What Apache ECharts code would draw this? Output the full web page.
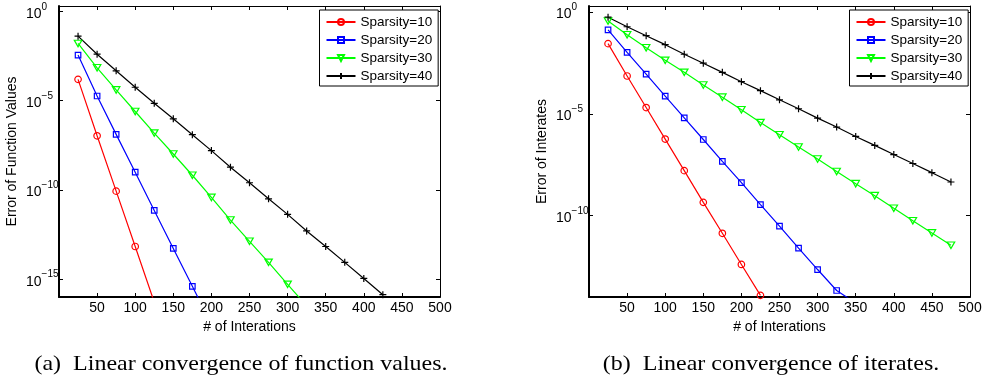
<!DOCTYPE html>
<html>
<head>
<meta charset="utf-8">
<script src="https://cdn.jsdelivr.net/npm/echarts@6/dist/echarts.min.js"></script>
<style>html,body{margin:0;padding:0;background:#fff;}#c{width:982px;height:383px;}</style>
</head>
<body>
<div id="c"></div>
<script>
// ---- data (log10 of error), iterations every 25 ----
const iterations = [25, 50, 75, 100, 125, 150, 175, 200, 225, 250, 275, 300, 325, 350, 375, 400, 425, 450, 475];
const seriesNames = ['Sparsity=10', 'Sparsity=20', 'Sparsity=30', 'Sparsity=40'];
// (a) error of function values, log10
const fv_s10 = [-3.81, -6.97, -10.07, -13.17, -16.29];
const fv_s20 = [-2.45, -4.74, -6.89, -9.01, -11.15, -13.28, -15.40, -17.53];
const fv_s30 = [-1.80, -3.16, -4.40, -5.61, -6.82, -7.99, -9.18, -10.42, -11.69, -12.88, -14.06, -15.29, -16.50];
const fv_s40 = [-1.39, -2.40, -3.33, -4.25, -5.15, -6.02, -6.91, -7.80, -8.73, -9.60, -10.50, -11.37, -12.30, -13.17, -14.06, -14.96, -15.87];
// (b) error of iterates, log10
const it_s10 = [-1.55, -3.14, -4.69, -6.24, -7.79, -9.35, -10.87, -12.40, -13.92];
const it_s20 = [-0.87, -1.98, -3.05, -4.13, -5.20, -6.26, -7.34, -8.38, -9.46, -10.52, -11.60, -12.65, -13.68, -14.30];
const it_s30 = [-0.44, -1.11, -1.75, -2.37, -2.96, -3.58, -4.18, -4.80, -5.43, -6.03, -6.63, -7.22, -7.83, -8.43, -9.02, -9.64, -10.25, -10.85, -11.46];
const it_s40 = [-0.25, -0.72, -1.16, -1.60, -2.07, -2.51, -2.96, -3.42, -3.86, -4.31, -4.75, -5.21, -5.65, -6.11, -6.55, -7.00, -7.44, -7.89, -8.35];
// tick labels
const yTicksA = [-15, -10, -5, 0];
const yTicksB = [-10, -5, 0];
const xTickStep = 50;
const xMax = 500;

const SANS = 'Liberation Sans';
const SERIF = 'Liberation Serif';
const colors = ['#ff0000', '#0000ff', '#00ff00', '#000000'];
const symbols = ['circle', 'rect', 'path://M0,0L2,0L1,1.732Z', 'path://M0,3H6M3,0V6'];
const symSizes = [6.5, 5.5, [7.5, 6.5], 7];

function supLabel(v) {
  const e = Math.round(v);
  const s = e < 0 ? '\u2212' + (-e) : String(e);
  return '{b|10}{s|' + s + '}';
}
const richY = {
  b: { fontSize: 14, fontFamily: SANS, color: '#000', lineHeight: 14, verticalAlign: 'bottom' },
  s: { fontSize: 10, fontFamily: SANS, color: '#000', lineHeight: 19, verticalAlign: 'top' }
};

function mkSeries(k, vals, xi, yi) {
  return {
    type: 'line', name: seriesNames[k], xAxisIndex: xi, yAxisIndex: yi,
    data: vals.map((v, i) => [iterations[i], v]),
    symbol: symbols[k], symbolSize: symSizes[k], showAllSymbol: true, clip: true,
    lineStyle: { color: colors[k], width: 1.2 },
    itemStyle: { color: 'rgba(255,255,255,0)', borderColor: colors[k], borderWidth: 1.2 },
    emphasis: { disabled: true }, silent: true
  };
}

function xAxes(gi) {
  return [
    { gridIndex: gi, type: 'value', min: 0, max: xMax, interval: xTickStep, position: 'bottom',
      axisLine: { show: true, onZero: false, lineStyle: { color: '#000', width: 2 } },
      axisTick: { show: true, inside: true, length: 4, lineStyle: { color: '#000', width: 1 } },
      axisLabel: { show: true, margin: 4, fontSize: 14, fontFamily: SANS, color: '#000',
        formatter: v => (v === 0 ? '' : String(v)) },
      splitLine: { show: false },
      name: '# of Interations', nameLocation: 'middle', nameGap: 17,
      nameTextStyle: { fontSize: 14, fontFamily: SANS, color: '#000' } },
    { gridIndex: gi, type: 'value', min: 0, max: xMax, interval: xTickStep, position: 'top',
      axisLine: { show: true, onZero: false, lineStyle: { color: '#000', width: 1 } },
      axisTick: { show: true, inside: true, length: 4, lineStyle: { color: '#000', width: 1 } },
      axisLabel: { show: false }, splitLine: { show: false } }
  ];
}
function yAxes(gi, ymin, ticks, title) {
  return [
    { gridIndex: gi, type: 'value', min: ymin, max: 0.3, position: 'left',
      axisLine: { show: true, onZero: false, lineStyle: { color: '#000', width: 2 } },
      axisTick: { show: true, inside: true, length: 4, customValues: ticks, lineStyle: { color: '#000', width: 1 } },
      axisLabel: { show: true, customValues: ticks, margin: 33, align: 'left', formatter: supLabel, rich: richY },
      splitLine: { show: false },
      name: title, nameLocation: 'middle', nameGap: 40,
      nameTextStyle: { fontSize: 14, fontFamily: SANS, color: '#000' } },
    { gridIndex: gi, type: 'value', min: ymin, max: 0.3, position: 'right',
      axisLine: { show: true, onZero: false, lineStyle: { color: '#000', width: 1 } },
      axisTick: { show: true, inside: true, length: 4, customValues: ticks, lineStyle: { color: '#000', width: 1 } },
      axisLabel: { show: false }, splitLine: { show: false } }
  ];
}
function legend(left) {
  return {
    left: left, top: 10, orient: 'vertical', data: seriesNames,
    backgroundColor: '#fff', borderColor: '#000', borderWidth: 1, borderRadius: 0,
    padding: [5, 6, 3, 6], itemWidth: 29, itemHeight: 7.5, itemGap: 4,
    textStyle: { fontSize: 13.5, fontFamily: SANS, color: '#000', lineHeight: 14 },
    selectedMode: false
  };
}

const chart = echarts.init(document.getElementById('c'), null, { renderer: 'canvas' });
chart.setOption({
  backgroundColor: '#fff',
  animation: false,
  grid: [
    { left: 59, top: 6, width: 381, height: 291, outerBoundsMode: 'none', containLabel: false },
    { left: 589, top: 6, width: 381, height: 291, outerBoundsMode: 'none', containLabel: false }
  ],
  xAxis: [...xAxes(0), ...xAxes(1)],
  yAxis: [...yAxes(0, -16, yTicksA, 'Error of Function Values'), ...yAxes(1, -14, yTicksB, 'Error of Interates')],
  legend: [legend(319.5), legend(849.5)],
  series: [
    mkSeries(0, fv_s10, 0, 0), mkSeries(1, fv_s20, 0, 0), mkSeries(2, fv_s30, 0, 0), mkSeries(3, fv_s40, 0, 0),
    mkSeries(0, it_s10, 2, 2), mkSeries(1, it_s20, 2, 2), mkSeries(2, it_s30, 2, 2), mkSeries(3, it_s40, 2, 2)
  ],
  graphic: [
    { type: 'text', x: 241, y: 364, scaleX: 1.09, silent: true,
      style: { text: '(a)  Linear convergence of function values.', fontSize: 22, fontFamily: SERIF, fill: '#000', align: 'center', verticalAlign: 'middle' } },
    { type: 'text', x: 771, y: 364, scaleX: 1.09, silent: true,
      style: { text: '(b)  Linear convergence of iterates.', fontSize: 22, fontFamily: SERIF, fill: '#000', align: 'center', verticalAlign: 'middle' } }
  ]
});
</script>
</body>
</html>
